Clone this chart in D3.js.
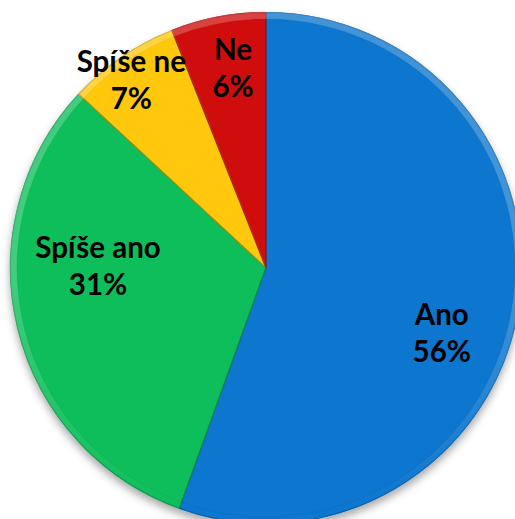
<!DOCTYPE html>
<html>
<head>
<meta charset="utf-8">
<script src="https://cdn.jsdelivr.net/npm/d3@7"></script>
<style>
  html, body { margin: 0; padding: 0; background: #ffffff; }
  svg { display: block; }
  text { font-family: Lato, "Open Sans", sans-serif; font-weight: 700; fill: #000; }
</style>
</head>
<body>
<svg id="chart" width="515" height="519"></svg>
<script>
// ---- data ----
const categories = ["Ano", "Spíše ano", "Spíše ne", "Ne"];
const values = [55.5, 31.4, 7.1, 6.0];
const colors = ["#0776CE", "#0BBE5A", "#FFC80A", "#D00A0A"];

// ---- layout ----
const W = 515, H = 519;
const cx = 266, cy = 268, R = 256;
// label anchor: [angle (deg clockwise from top), radius]
const labelAnchor = [[110, 187], [271, 168], [324.5, 232], [350.7, 204]];
const fontSize = 29.5, lineGap = 37;

const svg = d3.select("#chart");
const defs = svg.append("defs");

const shadow = defs.append("filter").attr("id", "shadow")
  .attr("x", "-20%").attr("y", "-20%").attr("width", "140%").attr("height", "140%");
shadow.append("feDropShadow").attr("dx", 0).attr("dy", 5).attr("stdDeviation", 4)
  .attr("flood-color", "#000").attr("flood-opacity", 0.35);

const rimGrad = defs.append("linearGradient").attr("id", "rim")
  .attr("gradientUnits", "userSpaceOnUse")
  .attr("x1", 0).attr("y1", cy - R).attr("x2", 0).attr("y2", cy + R);
rimGrad.append("stop").attr("offset", "0%").attr("stop-color", "#fff").attr("stop-opacity", 0.22);
rimGrad.append("stop").attr("offset", "45%").attr("stop-color", "#fff").attr("stop-opacity", 0.0);
rimGrad.append("stop").attr("offset", "100%").attr("stop-color", "#000").attr("stop-opacity", 0.22);

const data = categories.map((c, i) => ({ name: c, value: values[i], color: colors[i] }));
const pie = d3.pie().sort(null).value(d => d.value);
const arcs = pie(data);

const arc = d3.arc().innerRadius(0).outerRadius(R);
const rimArc = d3.arc().innerRadius(R - 7).outerRadius(R);
const edgeArc = d3.arc().innerRadius(0).outerRadius(R - 0.5);

const g = svg.append("g").attr("transform", `translate(${cx},${cy})`);

g.append("g").attr("filter", "url(#shadow)")
  .selectAll("path").data(arcs).join("path")
  .attr("d", arc)
  .attr("fill", d => d.data.color);

// darker bevel edges along slice borders
g.append("g").selectAll("path").data(arcs).join("path")
  .attr("d", edgeArc)
  .attr("fill", "none")
  .attr("stroke", d => d3.color(d.data.color).darker(0.9))
  .attr("stroke-opacity", 0.7)
  .attr("stroke-width", 1.2)
  .attr("stroke-linejoin", "round");

// rim bevel
g.append("g").selectAll("path").data(arcs).join("path")
  .attr("d", rimArc)
  .attr("fill", "url(#rim)");
g.append("g").selectAll("path").data(arcs).join("path")
  .attr("d", d3.arc().innerRadius(R - 7.5).outerRadius(R - 6.5))
  .attr("fill", d => d3.color(d.data.color).darker(0.4))
  .attr("opacity", 0.25);

// labels
const labels = g.append("g").selectAll("text").data(arcs).join("text")
  .attr("text-anchor", "middle")
  .attr("font-size", fontSize)
  .attr("transform", (d, i) => {
    const a = labelAnchor[i][0] * Math.PI / 180, r = labelAnchor[i][1];
    return `translate(${r * Math.sin(a)},${-r * Math.cos(a)})`;
  });
labels.append("tspan").attr("x", 0).attr("y", -lineGap / 2 + 11.5).text(d => d.data.name);
labels.append("tspan").attr("x", 0).attr("y", lineGap / 2 + 11.5).text(d => Math.round(d.data.value) + "%");
</script>
</body>
</html>
